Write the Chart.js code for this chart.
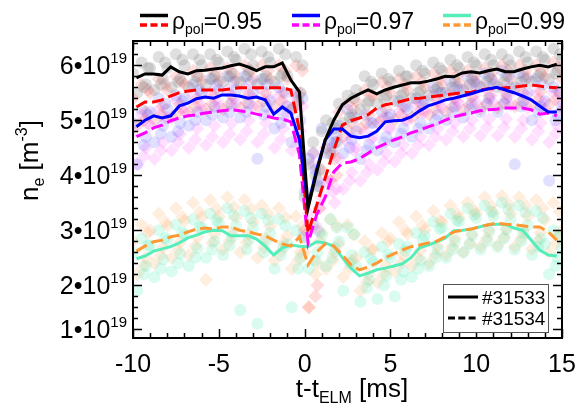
<!doctype html>
<html lang="en">
<head>
<meta charset="utf-8">
<title>n_e around ELM</title>
<script src="https://cdn.jsdelivr.net/npm/chart.js"></script>
<style>
  html, body { margin: 0; padding: 0; background: #fff; }
</style>
</head>
<body>
<canvas id="neChart" width="577" height="409"></canvas>
<script>
// time base of the averaged profiles [ms]
const lineT = [-9.8,-9.3,-8.8,-8.3,-7.8,-7.3,-6.8,-6.3,-5.8,-5.3,-4.8,-4.3,-3.8,-3.3,-2.8,-2.3,-1.8,-1.3,-0.8,-0.3,
  0.2,0.7,1.2,1.7,2.2,2.7,3.2,3.7,4.2,4.7,5.2,5.7,6.2,6.7,7.2,7.7,8.2,8.7,9.2,9.7,
  10.2,10.7,11.2,11.7,12.2,12.7,13.2,13.7,14.2,14.7];

// averaged n_e [1e19 m^-3]
const black95 = [5.77,5.84,5.84,5.82,5.97,5.88,5.84,5.9,5.91,5.93,5.95,5.99,6.02,5.97,5.9,5.97,5.97,6.04,5.73,5.51,
  3.4,4.05,4.64,5.0,5.28,5.4,5.48,5.55,5.48,5.55,5.6,5.64,5.68,5.68,5.71,5.75,5.8,5.79,5.86,5.88,
  5.86,5.9,5.93,5.88,5.88,5.93,5.97,6.0,5.97,6.02];
const red95 = [5.24,5.33,5.33,5.37,5.44,5.5,5.53,5.55,5.55,5.55,5.55,5.57,5.59,5.59,5.59,5.59,5.59,5.59,5.55,4.82,
  2.95,3.45,3.95,4.45,4.91,4.99,5.04,5.1,5.22,5.28,5.31,5.35,5.39,5.4,5.42,5.44,5.46,5.48,5.5,5.51,
  5.55,5.57,5.57,5.59,5.6,5.62,5.64,5.62,5.6,5.59];
const blue97 = [4.88,5.0,5.08,5.04,5.08,5.26,5.31,5.39,5.42,5.4,5.46,5.46,5.44,5.4,5.42,5.37,5.11,5.24,5.13,4.64,
  3.45,4.1,4.64,4.84,4.84,4.71,4.68,4.71,4.8,4.97,4.99,5.0,5.06,5.17,5.26,5.31,5.37,5.4,5.44,5.48,
  5.53,5.57,5.6,5.55,5.5,5.44,5.37,5.26,5.15,5.15];
const magenta97 = [4.7,4.77,4.86,4.91,4.99,5.04,5.08,5.1,5.13,5.15,5.17,5.19,5.17,5.15,5.11,5.08,5.04,5.02,4.97,4.37,
  2.77,3.28,3.6,4.06,4.22,4.24,4.3,4.4,4.5,4.57,4.64,4.7,4.77,4.82,4.88,4.93,5.0,5.06,5.1,5.13,
  5.17,5.19,5.2,5.22,5.22,5.22,5.19,5.11,5.13,5.08];
const aqua99 = [2.48,2.53,2.62,2.66,2.7,2.77,2.86,2.91,2.97,3.0,2.99,2.9,2.9,2.9,2.84,2.71,2.55,2.68,2.73,2.71,
  2.7,2.79,2.77,2.71,2.5,2.31,2.17,2.22,2.28,2.31,2.35,2.39,2.5,2.68,2.73,2.79,2.86,2.99,3.0,3.02,
  3.06,3.1,3.11,3.11,3.04,3.0,2.82,2.64,2.55,2.53];
const orange99 = [2.62,2.71,2.79,2.82,2.88,2.91,2.97,3.02,3.04,3.02,3.06,3.06,3.0,2.97,2.93,2.9,2.82,2.75,2.71,2.88,
  2.37,2.6,2.75,2.71,2.55,2.37,2.28,2.33,2.4,2.5,2.57,2.64,2.7,2.73,2.77,2.8,2.88,2.97,3.0,3.02,
  3.06,3.1,3.13,3.11,3.1,3.08,3.06,3.06,2.97,2.82];

// single measurements: one row per sub-step (cloudStep) of each ms in cloudT
const cloudT = [-10,-9,-8,-7,-6,-5,-4,-3,-2,-1,0,1,2,3,4,5,6,7,8,9,10,11,12,13,14,15];
const cloudStep = [0.5, 0, 0.75, 0.25, 0.875, 0.625];
const cloud95a = [
  [6.05,6.15,6.2,6.2,6.2,6.25,6.3,6.25,6.3,6.15,4.6,4.4,5.45,5.8,5.85,5.9,6.0,6.05,6.1,6.15,6.2,6.2,6.25,6.25,6.3,6.3],
  [5.85,5.95,5.95,6.0,6.0,6.05,6.1,6.0,6.05,5.8,3.6,4.8,5.3,5.55,5.65,5.7,5.8,5.85,5.9,5.95,6.0,6.0,6.0,6.05,6.1,6.1],
  [5.65,5.75,5.75,5.8,5.8,5.85,5.9,5.8,5.85,5.5,3.8,4.85,5.1,5.35,5.45,5.5,5.55,5.6,5.7,5.75,5.8,5.8,5.8,5.85,5.9,5.9],
  [5.5,5.55,5.6,5.6,5.65,5.7,5.7,5.65,5.7,5.2,4.2,5.0,4.95,5.2,5.3,5.35,5.4,5.45,5.5,5.55,5.6,5.6,5.6,5.7,5.75,5.75],
  [5.95,6.05,6.1,6.1,6.1,6.15,6.2,6.15,6.2,6.0,4.1,4.6,5.4,5.7,5.75,5.8,5.9,5.95,6.0,6.05,6.1,6.1,6.15,6.15,6.2,6.2],
  [5.6,5.65,5.7,5.7,5.75,5.8,5.8,5.75,5.8,5.35,4.0,4.95,5.05,5.3,5.4,5.45,5.5,5.55,5.6,5.65,5.7,5.7,5.7,5.8,5.85,5.85]];
const cloud95b = [
  [5.65,5.75,5.8,5.9,5.95,5.95,6.0,6.0,6.0,6.0,4.4,3.9,5.3,5.55,5.7,5.75,5.8,5.85,5.9,5.9,5.95,6.0,6.0,6.0,6.05,6.0],
  [5.4,5.5,5.55,5.65,5.7,5.7,5.72,5.75,5.75,5.75,3.0,4.1,5.15,5.35,5.45,5.5,5.55,5.6,5.65,5.68,5.7,5.72,5.75,5.78,5.78,5.75],
  [5.15,5.25,5.3,5.4,5.45,5.45,5.47,5.5,5.5,5.5,2.0,4.3,4.95,5.1,5.2,5.25,5.3,5.35,5.4,5.42,5.45,5.47,5.5,5.52,5.52,5.5],
  [4.9,5.0,5.05,5.15,5.2,5.2,5.22,5.25,5.25,5.2,1.6,4.5,4.7,4.85,4.95,5.0,5.05,5.1,5.15,5.18,5.2,5.22,5.25,5.28,5.28,5.25],
  [5.55,5.65,5.7,5.8,5.85,5.85,5.9,5.9,5.9,5.9,3.4,4.0,5.2,5.45,5.6,5.65,5.7,5.75,5.8,5.8,5.85,5.9,5.9,5.9,5.95,5.9],
  [5.0,5.1,5.15,5.25,5.3,5.3,5.32,5.35,5.35,5.3,1.8,4.4,4.8,4.95,5.05,5.1,5.15,5.2,5.25,5.28,5.3,5.32,5.35,5.38,5.38,5.35]];
const cloud97a = [
  [5.2,5.4,5.45,5.65,5.75,5.8,5.8,5.75,5.6,5.5,4.4,4.6,5.2,5.1,5.15,5.35,5.4,5.6,5.7,5.8,5.85,5.9,5.85,5.75,5.6,5.5],
  [4.95,5.15,5.2,5.4,5.5,5.55,5.55,5.5,5.35,5.25,3.7,4.85,4.9,4.8,4.95,5.1,5.2,5.35,5.5,5.55,5.65,5.65,5.6,5.5,5.35,5.25],
  [4.7,4.9,4.95,5.15,5.25,5.3,5.3,5.25,5.1,5.0,3.9,4.6,4.65,4.55,4.7,4.85,4.95,5.1,5.25,5.3,5.4,5.4,5.35,5.25,5.1,5.0],
  [4.2,4.6,4.7,4.9,5.0,5.05,5.05,4.3,4.85,4.6,4.3,4.4,4.4,4.3,4.45,4.6,4.7,4.85,5.0,5.05,5.15,5.15,4.2,5.0,3.9,4.6],
  [5.1,5.3,5.35,5.55,5.65,5.7,5.7,5.65,5.5,5.4,3.8,4.7,5.05,4.95,5.05,5.25,5.3,5.5,5.6,5.7,5.75,5.8,5.75,5.65,5.5,5.4],
  [4.55,4.75,4.8,5.0,5.1,5.15,5.15,5.1,4.95,4.8,4.1,4.5,4.5,4.45,4.6,4.75,4.85,5.0,5.15,5.2,5.3,5.3,5.25,5.15,5.0,4.85]];
const cloud97b = [
  [5.1,5.2,5.35,5.45,5.5,5.55,5.6,5.55,5.45,5.4,4.2,3.9,4.6,4.8,5.0,5.15,5.3,5.45,5.5,5.6,5.6,5.6,5.6,5.5,5.5,5.45],
  [4.8,4.9,5.05,5.15,5.2,5.25,5.3,5.25,5.15,5.1,2.9,3.6,4.3,4.5,4.7,4.85,5.0,5.15,5.22,5.3,5.32,5.32,5.28,5.22,5.2,5.18],
  [4.5,4.6,4.75,4.85,4.9,4.95,5.0,4.95,4.85,4.8,3.0,3.5,4.05,4.2,4.4,4.55,4.7,4.85,4.95,5.0,5.02,5.02,5.0,4.95,4.9,4.88],
  [4.2,4.3,4.45,4.5,4.55,4.6,4.65,4.6,4.5,4.45,3.3,3.9,3.75,3.9,4.1,4.25,4.4,4.55,4.65,4.7,4.72,4.72,4.7,4.65,4.6,4.58],
  [4.95,5.05,5.2,5.3,5.35,5.4,5.45,5.4,5.3,5.25,3.4,3.75,4.45,4.65,4.85,5.0,5.15,5.3,5.35,5.45,5.45,5.45,5.45,5.35,5.35,5.3],
  [4.35,4.45,4.6,4.65,4.7,4.75,4.8,4.75,4.65,4.6,3.1,3.7,3.9,4.05,4.25,4.4,4.55,4.7,4.8,4.85,4.87,4.87,4.85,4.8,4.75,4.72]];
const cloud99a = [
  [2.85,3.0,3.1,3.2,3.3,3.4,3.35,3.3,3.2,3.0,3.1,3.2,3.05,2.6,2.7,2.75,2.95,3.15,3.3,3.4,3.45,3.5,3.45,3.35,3.0,2.95],
  [2.6,2.72,2.82,2.92,3.05,3.13,3.08,3.05,2.95,2.75,2.85,2.9,2.8,2.35,2.42,2.5,2.7,2.9,3.05,3.16,3.22,3.26,3.2,3.1,2.75,2.68],
  [2.35,2.47,2.57,2.67,2.8,2.88,2.83,2.8,2.7,2.5,2.6,2.68,2.55,2.1,2.17,2.25,2.45,2.65,2.8,2.91,2.97,3.01,2.95,2.85,2.5,2.43],
  [1.9,2.15,2.25,2.35,2.5,2.55,1.55,1.3,2.3,1.6,2.3,2.35,1.9,1.7,1.75,1.8,2.15,2.35,2.5,2.6,2.65,2.7,2.65,2.55,2.2,2.15],
  [2.72,2.86,2.96,3.06,3.18,3.27,3.22,3.18,3.08,2.88,2.98,3.05,2.92,2.48,2.56,2.62,2.82,3.02,3.18,3.28,3.34,3.38,3.32,3.22,2.88,2.82],
  [2.2,2.3,2.4,2.5,2.65,2.72,2.65,2.6,2.55,2.3,2.45,2.5,2.4,1.95,2.0,2.1,2.3,2.5,2.65,2.75,2.8,2.85,2.8,2.7,2.35,2.3]];
const cloud99b = [
  [3.1,3.3,3.4,3.5,3.55,3.6,3.55,3.45,3.4,3.25,3.05,3.2,3.1,2.8,2.95,3.15,3.25,3.35,3.45,3.5,3.6,3.62,3.6,3.55,3.5,3.3],
  [2.8,3.0,3.08,3.17,3.23,3.25,3.23,3.15,3.07,2.9,2.6,2.95,2.75,2.5,2.65,2.85,2.93,3.01,3.15,3.22,3.3,3.32,3.3,3.26,3.19,3.0],
  [2.5,2.69,2.78,2.87,2.93,2.95,2.93,2.85,2.77,2.6,2.4,2.6,2.45,2.2,2.35,2.55,2.63,2.71,2.85,2.92,3.0,3.02,3.0,2.96,2.89,2.7],
  [2.2,2.4,2.5,2.55,2.1,2.65,2.6,2.5,2.45,2.3,1.6,2.3,2.15,1.9,2.05,2.25,2.35,2.4,2.55,2.6,2.7,2.72,2.7,2.66,2.6,2.4],
  [2.95,3.15,3.24,3.33,3.39,3.42,3.39,3.3,3.23,3.07,2.8,3.07,2.92,2.65,2.8,3.0,3.09,3.18,3.3,3.36,3.45,3.47,3.45,3.4,3.34,3.15],
  [2.35,2.55,2.64,2.71,2.77,2.8,2.77,2.68,2.61,2.45,2.2,2.45,2.3,2.05,2.2,2.4,2.49,2.56,2.7,2.76,2.85,2.87,2.85,2.81,2.75,2.55]];

// axes
const xTicks = [-10, -5, 0, 5, 10, 15];
const xTickLabels = ['-10', '-5', '0', '5', '10', '15'];
const yTicks = [1.2, 2, 3, 4, 5, 6];
const yTickLabels = ['1', '2', '3', '4', '5', '6'];
const rhoLabels = ['0.95', '0.97', '0.99'];
const shotLabels = ['#31533', '#31534'];

const FONT = "'Liberation Sans', Arial, sans-serif";

function pts(xs, ys) { return ys.map((v, i) => ({ x: xs[i], y: v })); }
function cloudPts(rows) {
  return rows.flatMap((row, r) => row.map((v, i) => ({ x: cloudT[i] + cloudStep[r], y: v })));
}
function cloudSet(rows, color, style, radius) {
  return { type: 'scatter', data: cloudPts(rows), backgroundColor: color, borderWidth: 0,
    pointStyle: style, pointRadius: radius, pointHoverRadius: radius, order: 2, clip: 0 };
}
function lineSet(ys, color, dashed) {
  return { type: 'line', data: pts(lineT, ys), borderColor: color, borderWidth: 3,
    borderDash: dashed ? [12, 5] : [], pointRadius: 0, fill: false, tension: 0, order: 1, clip: 0 };
}

function drawRuns(ctx, runs, x, y) {
  runs.forEach(r => {
    ctx.font = r.size + 'px ' + FONT;
    ctx.fillText(r.t, x, y + (r.dy || 0));
    x += ctx.measureText(r.t).width;
  });
}
function runsWidth(ctx, runs) {
  let w = 0;
  runs.forEach(r => { ctx.font = r.size + 'px ' + FONT; w += ctx.measureText(r.t).width; });
  return w;
}

const decorations = {
  id: 'decorations',
  afterDatasetsDraw(chart) {
    const { ctx, chartArea: a, scales: { x, y } } = chart;
    ctx.save();
    ctx.fillStyle = '#000';
    ctx.strokeStyle = '#000';
    ctx.textAlign = 'left';
    ctx.textBaseline = 'alphabetic';

    // inward ticks on all sides
    ctx.lineWidth = 1.5;
    ctx.beginPath();
    for (let v = -10; v <= 15; v++) {
      const px = Math.round(x.getPixelForValue(v)) + 0.5;
      const len = xTicks.includes(v) ? 9 : 5;
      ctx.moveTo(px, a.bottom); ctx.lineTo(px, a.bottom - len);
      ctx.moveTo(px, a.top); ctx.lineTo(px, a.top + len);
    }
    for (let k = 6; k <= 32; k++) {
      const v = k / 5;
      const py = Math.round(y.getPixelForValue(v)) + 0.5;
      const len = yTicks.some(t => Math.abs(t - v) < 1e-6) ? 9 : 5;
      ctx.moveTo(a.left, py); ctx.lineTo(a.left + len, py);
      ctx.moveTo(a.right, py); ctx.lineTo(a.right - len, py);
    }
    ctx.stroke();
    ctx.lineWidth = 2;
    ctx.strokeRect(a.left, a.top, a.right - a.left, a.bottom - a.top);

    // x tick labels
    ctx.font = '25px ' + FONT;
    ctx.textAlign = 'center';
    xTicks.forEach((v, i) => ctx.fillText(xTickLabels[i], x.getPixelForValue(v), 372));
    ctx.textAlign = 'left';

    // y tick labels
    yTicks.forEach((v, i) => {
      const runs = [{ t: yTickLabels[i] + '\u202210', size: 25 }, { t: '19', size: 15, dy: -11 }];
      const w = runsWidth(ctx, runs);
      drawRuns(ctx, runs, 127 - w, y.getPixelForValue(v) + 9);
    });

    // x title
    const xt = [{ t: 't-t', size: 26 }, { t: 'ELM', size: 16, dy: 6 }, { t: ' [ms]', size: 26 }];
    drawRuns(ctx, xt, 352 - runsWidth(ctx, xt) / 2, 397);

    // y title
    ctx.save();
    ctx.translate(38, 201);
    ctx.rotate(-Math.PI / 2);
    drawRuns(ctx, [{ t: 'n', size: 26 }, { t: 'e', size: 16, dy: 6 }, { t: ' [m', size: 26 },
      { t: '-3', size: 16, dy: -11 }, { t: ']', size: 26 }], 0, 0);
    ctx.restore();

    // top legend
    const pairs = [['#000000', '#ff0000'], ['#0000ff', '#ff00ff'], ['#55eebb', '#ff9933']];
    const lx = [140, 292, 443];
    pairs.forEach((p, i) => {
      ctx.lineWidth = 3.5;
      ctx.strokeStyle = p[0];
      ctx.setLineDash([]);
      ctx.beginPath(); ctx.moveTo(lx[i], 15.5); ctx.lineTo(lx[i] + 28, 15.5); ctx.stroke();
      ctx.strokeStyle = p[1];
      ctx.setLineDash([7, 3.5]);
      ctx.beginPath(); ctx.moveTo(lx[i], 25); ctx.lineTo(lx[i] + 28, 25); ctx.stroke();
      ctx.setLineDash([]);
      ctx.fillStyle = '#000';
      drawRuns(ctx, [{ t: '\u03c1', size: 23 }, { t: 'pol', size: 14, dy: 5 }, { t: '=' + rhoLabels[i], size: 23 }],
        lx[i] + 32, 29);
    });

    // shot legend
    ctx.fillStyle = '#fff';
    ctx.fillRect(443.5, 284.5, 105, 48);
    ctx.strokeStyle = '#555';
    ctx.lineWidth = 1;
    ctx.strokeRect(443.5, 284.5, 105, 48);
    ctx.strokeStyle = '#000';
    ctx.lineWidth = 3;
    ctx.beginPath(); ctx.moveTo(448, 297); ctx.lineTo(478, 297); ctx.stroke();
    ctx.setLineDash([7, 3.3]);
    ctx.beginPath(); ctx.moveTo(448, 318); ctx.lineTo(478, 318); ctx.stroke();
    ctx.setLineDash([]);
    ctx.fillStyle = '#000';
    ctx.font = '19px ' + FONT;
    ctx.fillText(shotLabels[0], 482, 304);
    ctx.fillText(shotLabels[1], 482, 325);
    ctx.restore();
  }
};

new Chart(document.getElementById('neChart'), {
  type: 'scatter',
  data: {
    datasets: [
      lineSet(black95, '#000000', false),
      lineSet(blue97, '#0000ff', false),
      lineSet(red95, '#ff0000', true),
      lineSet(magenta97, '#ff00ff', true),
      lineSet(orange99, '#ff9933', true),
      lineSet(aqua99, '#55eebb', false),
      cloudSet(cloud95a, 'rgba(120,120,120,0.24)', 'circle', 6),
      cloudSet(cloud97a, 'rgba(40,40,255,0.14)', 'circle', 6),
      cloudSet(cloud95b, 'rgba(255,30,30,0.15)', 'rectRot', 7),
      cloudSet(cloud97b, 'rgba(255,40,255,0.14)', 'rectRot', 7),
      cloudSet(cloud99a, 'rgba(85,238,185,0.22)', 'circle', 6),
      cloudSet(cloud99b, 'rgba(255,150,60,0.17)', 'rectRot', 7)
    ]
  },
  options: {
    responsive: false,
    animation: false,
    layout: { padding: { left: 133, right: 15, top: 41, bottom: 71 } },
    plugins: { legend: { display: false }, tooltip: { enabled: false } },
    scales: {
      x: { type: 'linear', min: -10, max: 15, display: false },
      y: { type: 'linear', min: 1.04, max: 6.44, display: false }
    }
  },
  plugins: [decorations]
});
</script>
</body>
</html>
